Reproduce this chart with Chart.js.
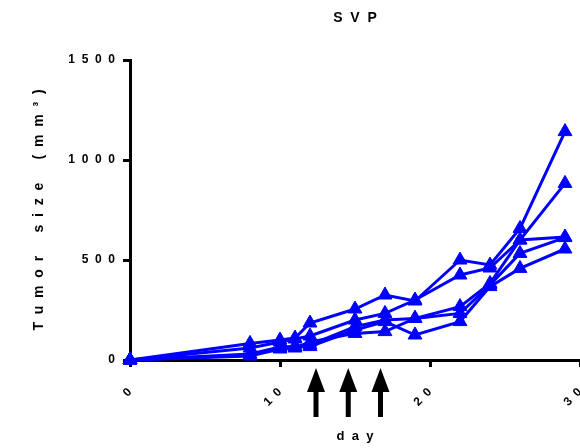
<!DOCTYPE html>
<html>
<head>
<meta charset="utf-8">
<script src="https://cdn.jsdelivr.net/npm/chart.js@4/dist/chart.umd.min.js"></script>
<style>
  html, body { margin: 0; padding: 0; background: #fff; }
  #wrap { width: 580px; height: 448px; }
</style>
</head>
<body>
<div id="wrap"><canvas id="svp"></canvas></div>
<script>
// Mesures du volume tumoral (mm3) par souris, jours de mesure
const days = [0, 8, 10, 11, 12, 15, 17, 19, 22, 24, 26, 29];
const mouse1 = [0, 83, 100, 110, 185, 255, 325, 295, 500, 475, 658, 1142];
const mouse2 = [0, 60, 90, 105, 120, 200, 233, 300, 425, 460, 600, 883];
const mouse3 = [0, 25, 60, 70, 75, 167, 200, 208, 267, 383, 600, 615];
const mouse4 = [0, 20, 55, 60, 90, 133, 142, 208, 233, 375, 533, 612];
const mouse5 = [0, 30, 65, 65, 67, 150, 192, 125, 192, 367, 458, 555];

// Jours de traitement (flèches sous l'axe)
const treatmentDays = [12.4, 14.55, 16.7];

const yTicks = [0, 500, 1000, 1500];
const xTicks = [0, 10, 20, 30];

const BLUE = '#0000ff';
const FONT = "'Liberation Sans', Arial, sans-serif";

// Texte espacé façon Prism
function spaced(str) {
    return String(str).split('').map(c => c === ' ' ? '  ' : c).join('  ');
}

function toPoints(values) {
    return days.map((d, i) => ({ x: d, y: values[i] }));
}

function makeDataset(label, values) {
    return {
        label: label,
        data: toPoints(values),
        borderColor: BLUE,
        backgroundColor: BLUE,
        borderWidth: 3,
        pointStyle: 'triangle',
        pointRadius: 8,
        pointBorderWidth: 1,
        pointHoverRadius: 8,
        tension: 0,
        clip: false
    };
}

// Flèches noires sous l'axe des x
const arrowsPlugin = {
    id: 'treatmentArrows',
    afterDraw(chart) {
        const ctx = chart.ctx;
        const xScale = chart.scales.x;
        const base = chart.chartArea.bottom;
        ctx.save();
        ctx.fillStyle = '#000';
        treatmentDays.forEach(d => {
            const x = xScale.getPixelForValue(d);
            const tip = base + 8;
            const headBase = base + 32;
            const tail = base + 57;
            ctx.beginPath();
            ctx.moveTo(x, tip);
            ctx.lineTo(x + 9, headBase);
            ctx.lineTo(x - 9, headBase);
            ctx.closePath();
            ctx.fill();
            ctx.fillRect(x - 2.5, headBase - 1, 5, tail - headBase + 1);
        });
        ctx.restore();
    }
};

const config = {
    type: 'line',
    data: {
        datasets: [
            makeDataset('1', mouse1),
            makeDataset('2', mouse2),
            makeDataset('3', mouse3),
            makeDataset('4', mouse4),
            makeDataset('5', mouse5)
        ]
    },
    options: {
        responsive: true,
        maintainAspectRatio: false,
        animation: false,
        layout: { autoPadding: false, padding: { left: 0, right: -1, top: 0, bottom: 0 } },
        plugins: {
            legend: { display: false },
            tooltip: { enabled: false },
            title: {
                display: true,
                text: spaced('SVP'),
                fullSize: false,
                color: '#000',
                font: { family: FONT, size: 14, weight: 'bold' },
                padding: { top: 10, bottom: 33.2 }
            }
        },
        scales: {
            x: {
                type: 'linear',
                min: 0,
                max: 30,
                afterBuildTicks(scale) {
                    scale.ticks = xTicks.map(v => ({ value: v }));
                },
                afterFit(scale) {
                    scale.height = 88;
                    scale.paddingLeft = 0;
                    scale.paddingRight = 0;
                },
                border: { color: '#000', width: 3 },
                grid: { drawOnChartArea: false, drawTicks: true, tickLength: 7, tickWidth: 3, tickColor: '#000' },
                ticks: {
                    autoSkip: false,
                    minRotation: 45,
                    maxRotation: 45,
                    padding: 18,
                    color: '#000',
                    font: { family: FONT, size: 12, weight: 'bold' },
                    callback: v => spaced(v)
                },
                title: {
                    display: true,
                    text: spaced('day'),
                    color: '#000',
                    font: { family: FONT, size: 13, weight: 'bold' },
                    padding: { top: 0, bottom: 4 }
                }
            },
            y: {
                min: 0,
                max: 1500,
                afterBuildTicks(scale) {
                    scale.ticks = yTicks.map(v => ({ value: v }));
                },
                afterFit(scale) {
                    scale.width = 130;
                },
                border: { color: '#000', width: 3 },
                grid: { drawOnChartArea: false, drawTicks: true, tickLength: 7, tickWidth: 3, tickColor: '#000' },
                ticks: {
                    padding: 8,
                    color: '#000',
                    font: { family: FONT, size: 12, weight: 'bold' },
                    callback: v => spaced(v)
                },
                title: {
                    display: true,
                    text: spaced('Tumor size (mm³)'),
                    color: '#000',
                    font: { family: FONT, size: 14, weight: 'bold' },
                    padding: { top: 31, bottom: 0 }
                }
            }
        }
    },
    plugins: [arrowsPlugin]
};

new Chart(document.getElementById('svp').getContext('2d'), config);
</script>
</body>
</html>
